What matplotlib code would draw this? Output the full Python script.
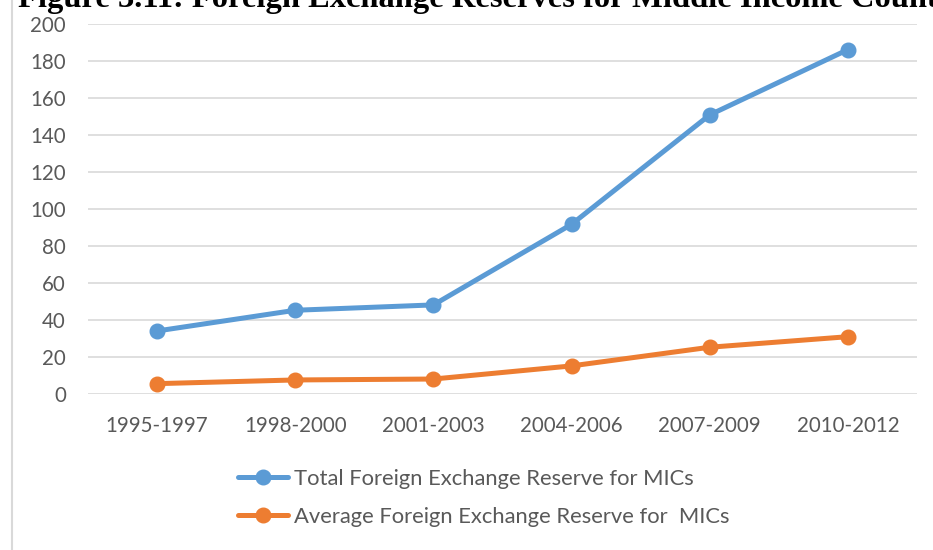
import matplotlib
matplotlib.use("Agg")
import matplotlib.pyplot as plt
from matplotlib.lines import Line2D

# ---------- data -------------------------------------------------------------
periods = ["1995-1997", "1998-2000", "2001-2003", "2004-2006", "2007-2009", "2010-2012"]
total_reserve = [34.1, 45.3, 48.2, 91.8, 151.0, 186.3]
avg_reserve = [5.6, 7.6, 8.1, 15.2, 25.3, 31.0]
y_ticks = list(range(0, 201, 20))

title = "Figure 3.11: Foreign Exchange Reserves for Middle Income Countries"
label_total = "Total Foreign Exchange Reserve for MICs"
label_avg = "Average Foreign Exchange Reserve for  MICs"

# ---------- style ------------------------------------------------------------
W, H = 933, 550
BLUE, ORANGE = "#5B9BD5", "#ED7D31"
GRID, TXT = "#D9D9D9", "#595959"
plt.rcParams["font.family"] = ["Lato", "DejaVu Sans"]
FS = 14.8
LEG_FS = 15.8

fig = plt.figure(figsize=(W / 100, H / 100), dpi=100)
ax = fig.add_axes([88 / W, 156 / H, (917 - 88) / W, (394 - 24.3) / H])

x = list(range(len(periods)))
ax.plot(x, total_reserve, color=BLUE, lw=3.6, marker="o", ms=10.5,
        solid_capstyle="round", label=label_total, zorder=3)
ax.plot(x, avg_reserve, color=ORANGE, lw=3.6, marker="o", ms=10.5,
        solid_capstyle="round", label=label_avg, zorder=3)

ax.set_xlim(-0.5, len(periods) - 0.5)
ax.set_ylim(0, 200)
ax.set_yticks(y_ticks)
ax.set_xticks(x)
ax.set_xticklabels(periods)
ax.grid(True, axis="y", color=GRID, lw=1.2)
ax.set_axisbelow(True)
for s in ax.spines.values():
    s.set_visible(False)
ax.tick_params(axis="both", length=0, labelsize=FS, labelcolor=TXT)
ax.tick_params(axis="y", pad=16)
ax.tick_params(axis="x", pad=16)

# ---------- legend -----------------------------------------------------------
fig.legend(handles=ax.get_lines(), loc="center left",
           bbox_to_anchor=(238 / W, 1 - 498 / H), frameon=False, fontsize=LEG_FS,
           labelcolor=TXT, handlelength=2.28, handletextpad=0.28,
           labelspacing=0.83, borderpad=0, borderaxespad=0)

# ---------- frame edge and cropped title (cut off in the source too) ---------
fig.add_artist(Line2D([12 / W, 12 / W], [0, 1], color=GRID, lw=1.5))
fig.text(18 / W, 1 - 7 / H, title, family="Liberation Serif", weight="bold",
         fontsize=23.4, va="baseline", ha="left", color="black")

fig.savefig("out.png", dpi=100)
